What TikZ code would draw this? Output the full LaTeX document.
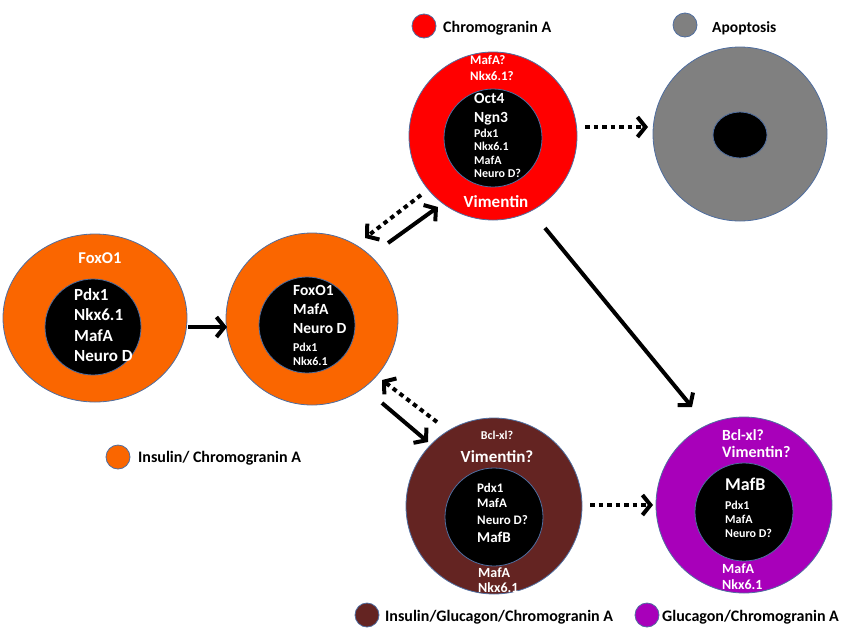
\documentclass[tikz,border=0pt]{standalone}
\usepackage{fontspec}
\setmainfont{Carlito}
\usetikzlibrary{arrows.meta,shapes.geometric}
\definecolor{cOrange}{RGB}{250,102,0}
\definecolor{cRed}{RGB}{255,0,0}
\definecolor{cGray}{RGB}{128,128,128}
\definecolor{cBrown}{RGB}{100,36,34}
\definecolor{cMag}{RGB}{168,0,186}
\definecolor{cEdge}{RGB}{79,110,160}
\newcommand\myfs[1]{\fontsize{#1}{#1}\selectfont\bfseries}
\tikzset{
  cell/.style={circle,draw=cEdge,line width=0.8pt,inner sep=0pt},
  nucleus/.style={circle,draw=cEdge,line width=0.8pt,fill=black,inner sep=0pt},
  dot/.style={circle,draw=cEdge,line width=0.8pt,inner sep=0pt,minimum size=24pt},
  wtxt/.style={anchor=base west,inner sep=0pt,text=white},
  ctxt/.style={anchor=base,inner sep=0pt,text=white},
  ltxt/.style={anchor=base west,inner sep=0pt,text=black,font=\myfs{16}},
  solidarr/.style={line width=4pt,-{Straight Barb[length=8pt,width=20pt]}},
  dotarr/.style={line width=4pt,dash pattern=on 4.5pt off 4pt,-{Straight Barb[length=8pt,width=20pt]}}
}
\begin{document}
\begin{tikzpicture}[x=1pt,y=-1pt]
\useasboundingbox (0,0) rectangle (843,630);

% cells
\node[ellipse,draw=cEdge,line width=0.8pt,inner sep=0pt,fill=cOrange,minimum width=184pt,minimum height=168pt] (c1) at (95,318) {};
\node[nucleus,minimum size=96pt] (n1) at (93,327) {};
\node[cell,fill=cOrange,minimum size=172pt] (c2) at (312,319) {};
\node[nucleus,minimum size=96pt] (n2) at (307,325) {};
\node[cell,fill=cRed,minimum size=168pt] (c3) at (493,136) {};
\node[nucleus,minimum size=98pt] (n3) at (493,138) {};
\node[cell,fill=cGray,minimum size=174pt] (c4) at (740,134) {};
\node[ellipse,draw=cEdge,line width=0.8pt,fill=black,inner sep=0pt,minimum width=54pt,minimum height=46pt] (n4) at (740,135) {};
\node[cell,fill=cBrown,minimum size=176pt] (c5) at (494,506) {};
\node[nucleus,minimum size=98pt] (n5) at (494,517) {};
\node[cell,fill=cMag,minimum size=176pt] (c6) at (744,505) {};
\node[nucleus,minimum size=98pt] (n6) at (744,512) {};

% cell 1 text
\node[ctxt,font=\myfs{16.5}] (t1a) at (100,263.5) {FoxO1};
\node[wtxt,font=\myfs{17}] (t1b) at (74,300.5) {Pdx1};
\node[wtxt,font=\myfs{17}] (t1c) at (74,320.5) {Nkx6.1};
\node[wtxt,font=\myfs{17}] (t1d) at (74,341.5) {MafA};
\node[wtxt,font=\myfs{17}] (t1e) at (74,361.5) {Neuro D};

% cell 2 text
\node[wtxt,font=\myfs{15.5}] (t2a) at (293,295) {FoxO1};
\node[wtxt,font=\myfs{15.5}] (t2b) at (293,314) {MafA};
\node[wtxt,font=\myfs{15.5}] (t2c) at (293,333) {Neuro D};
\node[wtxt,font=\myfs{12}] (t2d) at (293,351) {Pdx1};
\node[wtxt,font=\myfs{12}] (t2e) at (293,365) {Nkx6.1};

% cell 3 text
\node[wtxt,font=\myfs{13}] (t3a) at (470,64) {MafA?};
\node[wtxt,font=\myfs{13}] (t3b) at (470,80) {Nkx6.1?};
\node[wtxt,font=\myfs{15.5}] (t3c) at (474,103) {Oct4};
\node[wtxt,font=\myfs{15.5}] (t3d) at (474,122) {Ngn3};
\node[wtxt,font=\myfs{12}] (t3e) at (474,137) {Pdx1};
\node[wtxt,font=\myfs{12}] (t3f) at (474,150.5) {Nkx6.1};
\node[wtxt,font=\myfs{12}] (t3g) at (474,164) {MafA};
\node[wtxt,font=\myfs{12}] (t3h) at (474,177.5) {Neuro D?};
\node[ctxt,font=\myfs{17}] (t3i) at (496,207.5) {Vimentin};

% cell 5 text
\node[ctxt,font=\myfs{12}] (t5a) at (497,439) {Bcl-xl?};
\node[ctxt,font=\myfs{17}] (t5b) at (497,462) {Vimentin?};
\node[wtxt,font=\myfs{13}] (t5c) at (477,492) {Pdx1};
\node[wtxt,font=\myfs{13}] (t5d) at (477,507.5) {MafA};
\node[wtxt,font=\myfs{13}] (t5e) at (477,524) {Neuro D?};
\node[wtxt,font=\myfs{15}] (t5f) at (477,542) {MafB};
\node[wtxt,font=\myfs{14}] (t5g) at (478,577) {MafA};
\node[wtxt,font=\myfs{14}] (t5h) at (478,592) {Nkx6.1};

% cell 6 text
\node[wtxt,font=\myfs{15.5}] (t6a) at (722,440) {Bcl-xl?};
\node[wtxt,font=\myfs{16}] (t6b) at (722,457.5) {Vimentin?};
\node[wtxt,font=\myfs{18}] (t6c) at (725,490) {MafB};
\node[wtxt,font=\myfs{12}] (t6d) at (725,509) {Pdx1};
\node[wtxt,font=\myfs{12}] (t6e) at (725,523) {MafA};
\node[wtxt,font=\myfs{12}] (t6f) at (725,537) {Neuro D?};
\node[wtxt,font=\myfs{14}] (t6g) at (722,573) {MafA};
\node[wtxt,font=\myfs{14}] (t6h) at (722,589) {Nkx6.1};

% legends
\node[dot,fill=cRed] (l1) at (424,26) {};
\node[ltxt] (l1t) at (443,32) {Chromogranin A};
\node[dot,fill=cGray] (l2) at (685,25) {};
\node[ltxt,font=\myfs{15.5}] (l2t) at (712,32) {Apoptosis};
\node[dot,fill=cOrange] (l3) at (118,457) {};
\node[ltxt] (l3t) at (138,462.5) {Insulin/ Chromogranin A};
\node[dot,fill=cBrown] (l4) at (367,615) {};
\node[ltxt] (l4t) at (385,621) {Insulin/Glucagon/Chromogranin A};
\node[dot,fill=cMag] (l5) at (647,615) {};
\node[ltxt] (l5t) at (662,621) {Glucagon/Chromogranin A};

% connector end points
\coordinate (a1s) at (188,327);  \coordinate (a1e) at (227,327);
\coordinate (a2s) at (388,243);  \coordinate (a2e) at (438,207);
\coordinate (a3s) at (421,195);  \coordinate (a3e) at (365,238);
\coordinate (a4s) at (437,422);  \coordinate (a4e) at (382,380);
\coordinate (a5s) at (382,403);  \coordinate (a5e) at (428,442);
\coordinate (a6s) at (585,127);  \coordinate (a6e) at (648,127);
\coordinate (a7s) at (545,228);  \coordinate (a7e) at (692,407);
\coordinate (a8s) at (590,505);  \coordinate (a8e) at (653,505);

\draw[solidarr] (a1s) -- (a1e);
\draw[solidarr] (a2s) -- (a2e);
\draw[dotarr] (a3s) -- (a3e);
\draw[dotarr] (a4s) -- (a4e);
\draw[solidarr] (a5s) -- (a5e);
\draw[dotarr] (a6s) -- (a6e);
\draw[solidarr] (a7s) -- (a7e);
\draw[dotarr] (a8s) -- (a8e);
\end{tikzpicture}
\end{document}
